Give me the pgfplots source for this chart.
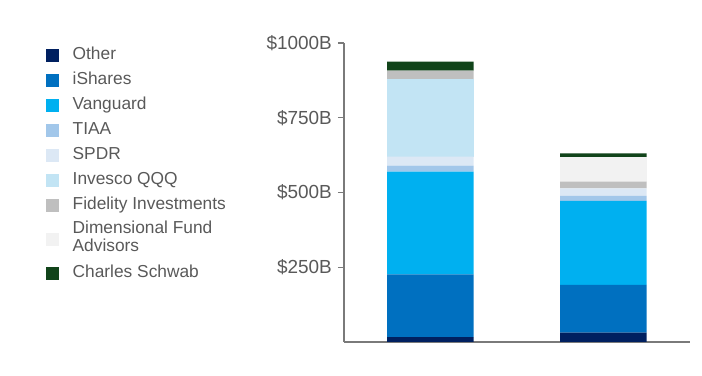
\documentclass[border=0pt]{standalone}
\usepackage{pgfplots}
\pgfplotsset{compat=1.18}
\usepackage{fontspec}
\setmainfont{Liberation Sans}
\definecolor{txt}{HTML}{595959}
\definecolor{axgray}{HTML}{7A7A7A}
\definecolor{cOther}{HTML}{002060}
\definecolor{cIShares}{HTML}{0070C0}
\definecolor{cVanguard}{HTML}{00B0F0}
\definecolor{cTIAA}{HTML}{A2C7EA}
\definecolor{cSPDR}{HTML}{DCE8F5}
\definecolor{cInvesco}{HTML}{C2E4F4}
\definecolor{cFidelity}{HTML}{BFBFBF}
\definecolor{cDFA}{HTML}{F2F2F2}
\definecolor{cSchwab}{HTML}{11441A}
\newcommand{\lgc}[1]{\begin{tabular}[c]{@{}l@{}}#1\end{tabular}}
\begin{document}
\begin{tikzpicture}
\begin{axis}[
  scale only axis, width=346bp, height=299bp,
  ybar stacked, bar width=0.5,
  xmin=-0.5, xmax=1.5, ymin=0, ymax=1000,
  axis lines*=left,
  xtick=\empty,
  ytick={250,500,750,1000},
  yticklabels={\$250B,\$500B,\$750B,\$1000B},
  tick align=outside, major tick length=6bp,
  axis line style={draw=axgray, line width=1.3bp},
  tick style={draw=axgray, line width=1.3bp},
  yticklabel style={font=\fontsize{19}{22}\selectfont, text=txt, inner sep=0pt, xshift=-6bp},
  legend style={at={(-0.8613,0.990)}, anchor=north west, draw=none, fill=none,
    inner sep=0pt, row sep=6.6bp,
    font=\fontsize{17.4}{18.4}\selectfont,
    nodes={inner sep=0pt, text=txt},
    /tikz/every odd column/.append style={column sep=13.5bp}},
  legend cell align=left,
  legend image code/.code={\fill[#1] (0bp,-6.5bp) rectangle (13bp,6.5bp);},
]
\addplot[fill=cOther, draw=none] coordinates {(0,16) (1,31)};
\addlegendentry[text height=12.9bp, text depth=5.5bp]{Other}
\addplot[fill=cIShares, draw=none] coordinates {(0,210) (1,160)};
\addlegendentry[text height=12.9bp, text depth=5.5bp]{iShares}
\addplot[fill=cVanguard, draw=none] coordinates {(0,344) (1,281)};
\addlegendentry[text height=12.9bp, text depth=5.5bp]{Vanguard}
\addplot[fill=cTIAA, draw=none] coordinates {(0,20) (1,17)};
\addlegendentry[text height=12.9bp, text depth=5.5bp]{TIAA}
\addplot[fill=cSPDR, draw=none] coordinates {(0,30) (1,25)};
\addlegendentry[text height=12.9bp, text depth=5.5bp]{SPDR}
\addplot[fill=cInvesco, draw=none] coordinates {(0,260) (1,0)};
\addlegendentry[text height=12.9bp, text depth=5.5bp]{Invesco QQQ}
\addplot[fill=cFidelity, draw=none] coordinates {(0,28) (1,22)};
\addlegendentry[text height=12.9bp, text depth=5.5bp]{Fidelity Investments}
\addplot[fill=cDFA, draw=none] coordinates {(0,0) (1,82)};
\addlegendentry[text height=22.1bp, text depth=14.7bp]{\lgc{Dimensional Fund\\Advisors}}
\addplot[fill=cSchwab, draw=none] coordinates {(0,30) (1,13)};
\addlegendentry[text height=12.9bp, text depth=5.5bp]{Charles Schwab}
\node[anchor=base, yshift=14.7bp, font=\fontsize{19}{22}\selectfont, text=txt] at (axis cs:0,1000) {Growth-Labeled};
\node[anchor=base, yshift=14.7bp, font=\fontsize{19}{22}\selectfont, text=txt] at (axis cs:1,1000) {Value-Labeled};
\end{axis}
\pgfresetboundingbox
\path[use as bounding box] (-344bp,-34bp) rectangle (358bp,342bp);
\end{tikzpicture}
\end{document}
